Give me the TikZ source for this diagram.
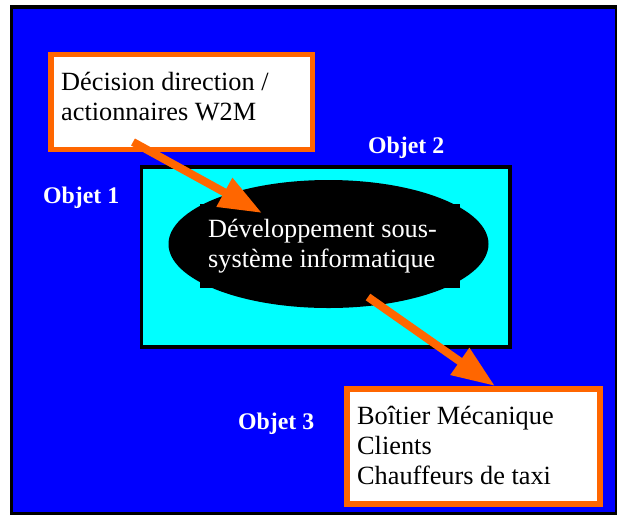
\documentclass[tikz,border=0pt]{standalone}
\usepackage{fontspec}
\setmainfont{Liberation Serif}
\usetikzlibrary{shapes.geometric,arrows.meta}
\definecolor{frameblue}{RGB}{0,0,255}
\definecolor{aqua}{RGB}{0,255,255}
\definecolor{flame}{RGB}{255,102,0}
\tikzset{
  textbox/.style={draw=flame, line width=5.5pt, fill=white, rectangle, inner sep=0pt},
  bodytext/.style={anchor=base west, inner sep=0pt, align=left, font=\fontsize{26.3}{30}\selectfont},
  objlabel/.style={anchor=base west, inner sep=0pt, text=white, font=\bfseries\fontsize{23.8}{27}\selectfont},
  flow/.style={draw=flame, line width=8pt, -{Triangle[length=43pt,width=31pt]}, shorten >=0pt}
}
\begin{document}
\begin{tikzpicture}[x=1pt,y=-1pt]
\useasboundingbox (0,0) rectangle (617,515);
% outer frame
\draw[line width=3.5pt, fill=frameblue] (11.7,7) rectangle (616.5,513.5);
% cyan system rectangle
\node[draw=black, line width=3.5pt, fill=aqua, rectangle, inner sep=0pt,
      minimum width=368.3pt, minimum height=180pt] (sys) at (325.85,257) {};
% black ellipse with its text frame corners
\fill[black] (200,204) rectangle (460,288);
\node[ellipse, fill=black, inner sep=0pt, minimum width=320pt, minimum height=128pt] (dev) at (328.5,244) {};
\node[bodytext, text=white] (devtext) at (208,267) {Développement sous-\\système informatique};
% top box
\node[textbox, minimum width=261.7pt, minimum height=95.2pt] (top) at (181.65,102.1) {};
\node[bodytext] (toptext) at (61,120) {Décision direction /\\actionnaires W2M};
% bottom box
\node[textbox, minimum width=253.4pt, minimum height=115.4pt] (bot) at (473.5,446.5) {};
\node[bodytext] (bottext) at (357,484) {Boîtier Mécanique\\Clients\\Chauffeurs de taxi};
% labels
\node[objlabel] (o1) at (43,203) {Objet 1};
\node[objlabel] (o2) at (368,153) {Objet 2};
\node[objlabel] (o3) at (238,429) {Objet 3};
% arrows
\coordinate (a1s) at (133,142);
\coordinate (a1e) at (262,213);
\coordinate (a2s) at (368,297);
\coordinate (a2e) at (495,386);
\draw[flow] (a1s) -- (a1e);
\draw[flow] (a2s) -- (a2e);
\end{tikzpicture}
\end{document}
